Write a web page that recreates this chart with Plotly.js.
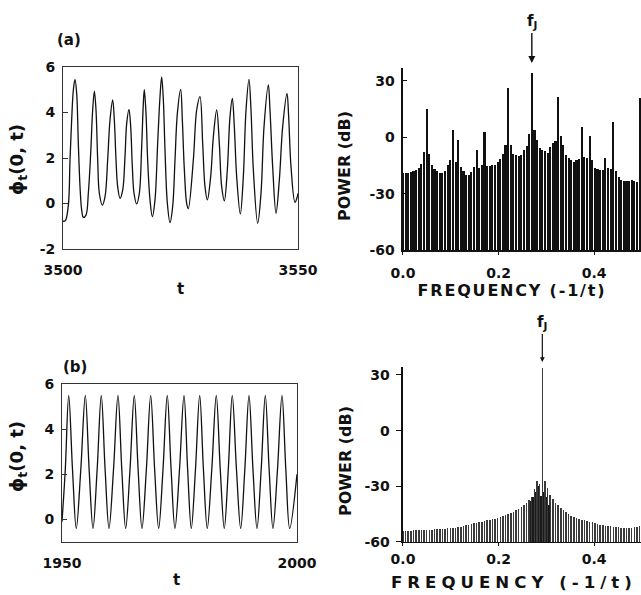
<!DOCTYPE html>
<html><head><meta charset="utf-8">
<script src="https://cdn.plot.ly/plotly-3.0.1.min.js"></script>
<style>html,body{margin:0;padding:0;background:#fff}</style>
</head><body><div id="chart" style="width:641px;height:595px"></div>
<script>
// (a) time series phi_t(0,t), 3500..3550
const tA = [3500.0,3500.5,3501.14,3501.49,3501.84,3502.2,3502.55,3502.91,3503.26,3503.62,3503.97,3504.33,3504.89,3505.39,3505.89,3506.31,3506.67,3507.02,3507.38,3507.73,3508.37,3508.94,3509.5,3510.0,3510.57,3510.92,3511.28,3511.63,3512.13,3512.7,3513.19,3513.55,3514.04,3514.4,3514.75,3515.11,3515.67,3516.24,3516.74,3517.09,3517.3,3517.66,3518.01,3518.51,3519.01,3519.57,3520.14,3520.64,3520.99,3521.35,3521.7,3522.2,3522.77,3523.33,3523.83,3524.33,3525.04,3525.39,3525.82,3526.31,3526.66,3527.73,3528.44,3529.15,3529.72,3530.21,3530.71,3531.42,3531.99,3532.7,3533.26,3533.76,3534.33,3534.96,3535.53,3536.03,3536.45,3536.95,3537.73,3538.37,3538.94,3539.57,3540.0,3540.5,3541.42,3542.13,3542.77,3543.69,3544.04,3544.61,3545.32,3546.03,3546.74,3547.66,3548.01,3548.51,3549.36,3549.85,3550.0];
const phiA = [-0.78,-0.75,-0.07,1.91,3.67,4.99,5.46,4.84,2.64,0.74,-0.29,-0.61,-0.51,0.45,2.20,4.11,4.94,4.11,1.91,0.45,-0.07,0.30,1.91,3.67,4.55,3.67,1.91,0.74,0.23,0.59,2.06,3.52,4.14,3.38,1.62,0.45,-0.02,0.45,2.50,4.40,5.0,3.96,1.91,0.16,-0.58,0.16,2.64,4.70,5.57,4.55,2.35,0.01,-0.84,-0.14,1.91,3.96,5.02,3.67,1.47,0.01,-0.22,1.91,4.11,4.70,2.64,0.74,0.16,1.18,2.94,4.11,2.64,0.74,0.12,1.47,3.82,4.62,3.38,1.18,-0.46,1.18,4.11,5.46,4.11,1.47,-0.87,0.45,3.38,5.21,4.11,1.62,-0.43,1.03,3.38,4.84,3.82,1.62,0.05,0.30,0.45];

// (b) time series phi_t(0,t), 1950..2000
const tB = [1950.0,1950.7,1951.43,1952.24,1953.04,1954.0,1954.96,1955.78,1956.6,1957.48,1958.36,1959.18,1960.0,1960.96,1961.91,1962.73,1963.55,1964.47,1965.38,1966.2,1967.02,1967.95,1968.87,1969.72,1970.57,1971.49,1972.4,1973.22,1974.04,1975.0,1975.96,1976.74,1977.51,1978.4,1979.3,1980.1,1980.91,1981.87,1982.83,1983.68,1984.53,1985.38,1986.23,1987.13,1988.02,1988.9,1989.79,1990.64,1991.49,1992.38,1993.26,1994.08,1994.89,1995.85,1996.81,1997.63,1998.45,2000.0];
const phiB = [-0.1,2.2,5.5,2.2,-0.4,2.2,5.5,2.2,-0.4,2.2,5.5,2.2,-0.4,2.2,5.5,2.2,-0.4,2.2,5.5,2.2,-0.4,2.2,5.5,2.2,-0.4,2.2,5.5,2.2,-0.4,2.2,5.5,2.2,-0.4,2.2,5.5,2.2,-0.4,2.2,5.5,2.2,-0.4,2.2,5.5,2.2,-0.4,2.2,5.5,2.2,-0.4,2.2,5.5,2.2,-0.4,2.2,5.5,2.2,-0.4,2.0];

// power spectra (dB) on the frequency grid
const freq = [0,0.0055,0.011,0.0165,0.022,0.0275,0.033,0.0385,0.044,0.0495,
0.055,0.0605,0.066,0.0715,0.077,0.0825,0.088,0.0935,0.099,0.1045,
0.11,0.1155,0.121,0.1265,0.132,0.1375,0.143,0.1485,0.154,0.1595,
0.165,0.1705,0.176,0.1815,0.187,0.1925,0.198,0.2035,0.209,0.2145,
0.22,0.2255,0.231,0.2365,0.242,0.2475,0.253,0.2585,0.264,0.2695,
0.275,0.2805,0.286,0.2915,0.297,0.3025,0.308,0.3135,0.319,0.3245,
0.33,0.3355,0.341,0.3465,0.352,0.3575,0.363,0.3685,0.374,0.3795,
0.385,0.3905,0.396,0.4015,0.407,0.4125,0.418,0.4235,0.429,0.4345,
0.44,0.4455,0.451,0.4565,0.462,0.4675,0.473,0.4785,0.484,0.4895,
0.495];
const powerA = [-19,-19,-19,-18.5,-18,-17.5,-16.5,-14,-8,15,
-9,-15,-17,-18,-19,-19,-18,-15,-12,4,
-13,-1.5,-16,-18,-20,-20,-18.5,-16,-6.7,-16.5,
-15,3,-15.5,-15.5,-15,-14.5,-13,-11.5,-9,-4,
26,-4,-9,-9.5,-10,-9.5,-7,-4.5,2,34,
4,-1.5,-5.5,-7,-7.5,-8.5,-5,-3,-2,21.6,
0.5,-4,-9.5,-11,-12,-13,-12,-11.5,5.7,-10.5,
-11,0.7,-12,-16.5,-17,-17.5,-17.5,-11,-16.5,-17,
8.3,-18,-21,-22.5,-23,-23,-23,-22.5,-23.5,-24,
20.8];
const powerB = [-54,-54,-54,-54,-53.8,-53.8,-53.6,-53.6,-53.5,-53.4,
-53.4,-53.3,-53.2,-53.1,-53,-53,-52.8,-52.7,-52.6,-52.5,
-52.3,-52.1,-51.8,-51.2,-50.8,-50.6,-50.3,-50,-49.6,-49.2,
-49,-48.7,-48.4,-48.1,-47.8,-47.4,-47,-46.6,-46.1,-45.6,
-45,-44.4,-43.7,-42.8,-42,-41,-40,-39,-37.5,-35.5,
-31.7,-27,-29,34,-27,-31,-34.5,-37,-38.8,-40.2,
-41.6,-42.7,-43.9,-45,-46,-46.8,-47.3,-47.8,-48.1,-48.4,
-48.8,-49.1,-49.5,-50,-50.4,-50.8,-51,-51.2,-51.4,-51.6,
-51.8,-51.9,-52,-52.2,-52.3,-52.3,-52.3,-52.2,-52,-51.7,
-51.5];
// extra dense lines near f_J in (b)
const freqB2 = [0.2668,0.2723,0.2778,0.2833,0.2888,0.2943,0.2998,0.3053];
const powerB2 = [-38,-36,-33,-30,-35,-33,-36,-40];

const FLOOR = -60;
const FAM = 'DejaVu Sans, sans-serif';
const tickF = {family:FAM, size:14, color:'#111', weight:'bold'};

const traces = [
  {x:tA, y:phiA, xaxis:'x', yaxis:'y', type:'scatter', mode:'lines',
   line:{color:'#111', width:1.3, shape:'spline', smoothing:1}, hoverinfo:'skip'},
  {x:freq, y:powerA.map(v => v - FLOOR), base:FLOOR, type:'bar', xaxis:'x2', yaxis:'y2',
   width:0.0044, marker:{color:'#111', line:{width:0}}, hoverinfo:'skip'},
  {x:tB, y:phiB, xaxis:'x3', yaxis:'y3', type:'scatter', mode:'lines',
   line:{color:'#111', width:1.3, shape:'spline', smoothing:1}, hoverinfo:'skip'},
  {x:freq, y:powerB.map(v => v - FLOOR), base:FLOOR, type:'bar', xaxis:'x4', yaxis:'y4',
   width:0.0032, marker:{color:'#3a3a3a', line:{width:0}}, hoverinfo:'skip'},
  {x:freqB2, y:powerB2.map(v => v - FLOOR), base:FLOOR, type:'bar', xaxis:'x4', yaxis:'y4',
   width:0.0028, marker:{color:'#1a1a1a', line:{width:0}}, hoverinfo:'skip'}
];

const common = {showgrid:false, zeroline:false, tickfont:tickF, fixedrange:true};
const leftX = Object.assign({}, common, {showline:true, mirror:true, linecolor:'#333', linewidth:1, ticks:'', ticklabelstandoff:8});
const leftY = Object.assign({}, common, {showline:true, mirror:true, linecolor:'#333', linewidth:1, ticks:'inside', ticklen:5, tickcolor:'#333', ticklabelstandoff:4});
const rightX = Object.assign({}, common, {showline:true, mirror:false, linecolor:'#111', linewidth:1.5, ticks:'outside', ticklen:3, tickcolor:'#111',
  tickvals:[0,0.2,0.4], ticktext:['0.0','0.2','0.4']});
const rightY = Object.assign({}, common, {showline:true, mirror:false, linecolor:'#111', linewidth:1.5,
  tickvals:[-60,-30,0,30], ticktext:['-60','-30','0','30'], tickcolor:'#111', ticklabelstandoff:4});

const layout = {
  width:641, height:595, margin:{l:0,r:0,t:0,b:0},
  paper_bgcolor:'#fff', plot_bgcolor:'rgba(0,0,0,0)', showlegend:false, barmode:'overlay', bargap:0,
  font:{family:FAM, color:'#111'},
  xaxis: Object.assign({}, leftX, {domain:[0.0983,0.4649], range:[3500,3550], anchor:'y', tickvals:[3500,3550]}),
  yaxis: Object.assign({}, leftY, {domain:[0.5815,0.8874], range:[-2,6], anchor:'x', tickvals:[-2,0,2,4,6], ticktext:['-2','0','2','4','6']}),
  xaxis2: Object.assign({}, rightX, {domain:[0.6287,1.0], range:[0,0.4979], anchor:'y2', ticklabelstandoff:7}),
  yaxis2: Object.assign({}, rightY, {domain:[0.5798,0.8857], range:[-60,36.9], anchor:'x2', ticks:'inside', ticklen:4}),
  xaxis3: Object.assign({}, leftX, {domain:[0.0967,0.4633], range:[1950,2000], anchor:'y3', tickvals:[1950,2000]}),
  yaxis3: Object.assign({}, leftY, {domain:[0.0891,0.3546], range:[-1,6], anchor:'x3', tickvals:[0,2,4,6]}),
  xaxis4: Object.assign({}, rightX, {domain:[0.6287,1.0], range:[0,0.4979], anchor:'y4', ticklabelstandoff:1}),
  yaxis4: Object.assign({}, rightY, {domain:[0.0891,0.3832], range:[-60,34.3], anchor:'x4', ticks:'outside', ticklen:5}),
  annotations: []
};

function paperText(px, py, text, size, angle) {
  return {xref:'paper', yref:'paper', x:px/641, y:1-py/595, text:text, showarrow:false,
    xanchor:'center', yanchor:'middle', textangle:angle||0,
    font:{family:FAM, size:size, color:'#111', weight:'bold'}};
}
layout.annotations.push(paperText(69, 40, '(a)', 15));
layout.annotations.push(paperText(75, 367, '(b)', 15));
layout.annotations.push(paperText(180, 289, 't', 15));
layout.annotations.push(paperText(177, 580, 't', 15));
layout.annotations.push(paperText(18, 160, 'ϕ<sub>t</sub>(0, t)', 18, -90));
layout.annotations.push(paperText(18, 457, 'ϕ<sub>t</sub>(0, t)', 18, -90));
layout.annotations.push(paperText(344, 166, 'POWER (dB)', 16, -90));
layout.annotations.push(paperText(345, 461, 'POWER (dB)', 16, -90));
layout.annotations.push(paperText(512, 290, 'FREQUENCY (-1/t)', 16));
layout.annotations.push(paperText(514, 582, 'FREQUENCY (-1/t)', 16.6));
// f_J markers: x in data units, y in paper units
layout.annotations.push({xref:'x2', yref:'paper', x:0.2695, y:1-63/595, text:'f<sub>J</sub>', showarrow:true,
  arrowhead:2, arrowsize:1, arrowwidth:1.4, arrowcolor:'#111', ax:0, ay:-30, yanchor:'bottom',
  font:{family:FAM, size:15, color:'#111', weight:'bold'}});
layout.annotations.push({xref:'x4', yref:'paper', x:0.2915, y:1-362/595, text:'f<sub>J</sub>', showarrow:true,
  arrowhead:2, arrowsize:0.8, arrowwidth:1.2, arrowcolor:'#111', ax:0, ay:-28, yanchor:'bottom',
  font:{family:FAM, size:15, color:'#111', weight:'bold'}});

Plotly.newPlot('chart', traces, layout, {staticPlot:true, displayModeBar:false}).then(() => {
  document.querySelectorAll('.annotation-text').forEach(el => {
    if (el.textContent.indexOf('FREQUENCY') === 0) {
      const fs = parseFloat(el.style.fontSize);
      el.style.letterSpacing = (fs > 16.3 ? '5px' : '1.8px');
    }
  });
});
</script></body></html>
